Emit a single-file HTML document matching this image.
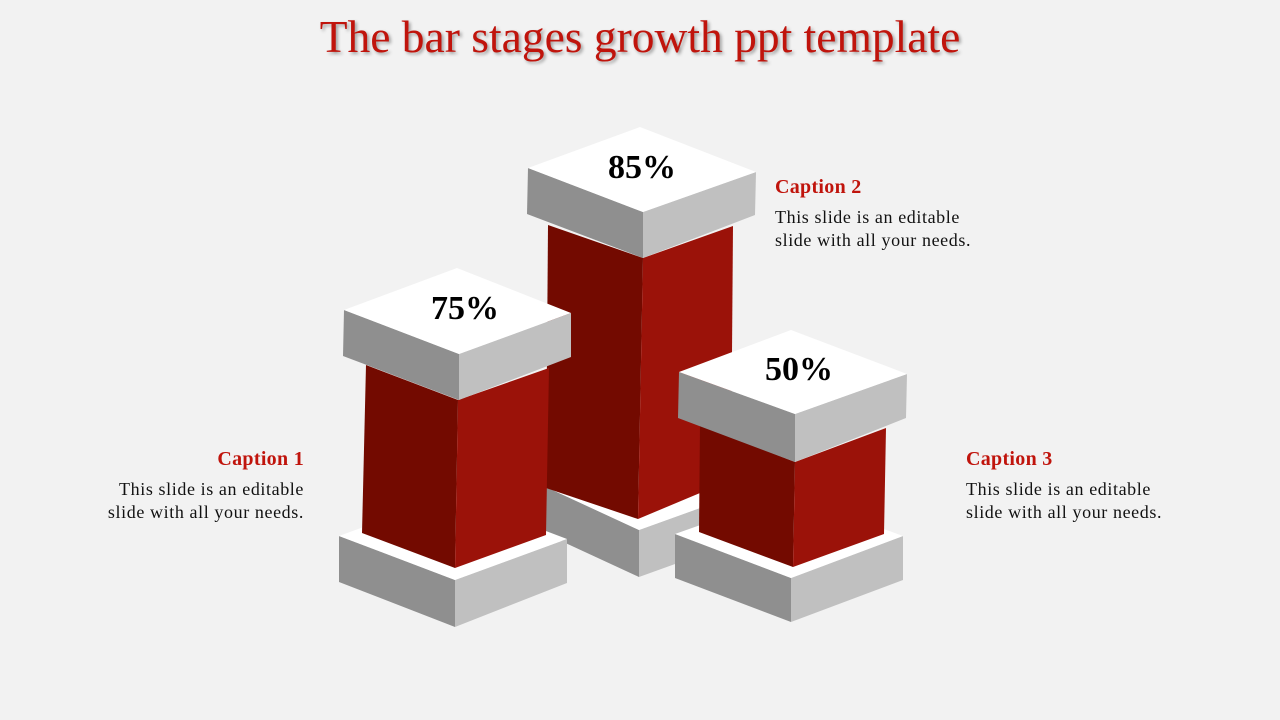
<!DOCTYPE html>
<html><head><meta charset="utf-8"><style>
body{margin:0;width:1280px;height:720px;background:#f2f2f2;overflow:hidden;font-family:"Liberation Serif",serif;}
.t{position:absolute;left:0;width:1280px;top:10px;text-align:center;font-size:45.5px;color:#c0140c;text-shadow:2px 2px 3px rgba(0,0,0,0.35);}
.c{position:absolute;font-size:18px;letter-spacing:0.6px;line-height:23px;color:#111;}
.c b{display:block;color:#c0140c;font-size:20px;letter-spacing:0.3px;margin-bottom:7px;}
</style></head><body>
<div class="t">The bar stages growth ppt template</div>
<svg width="1280" height="720" style="position:absolute;left:0;top:0">
<g font-family="Liberation Serif,serif" font-weight="bold" font-size="34" text-anchor="middle">
<polygon points="546,487 639,530 639,577 546,534" fill="#8f8f8f"/>
<polygon points="639,530 750,490 750,537 639,577" fill="#c0c0c0"/>
<polygon points="546,487 639,530 750,490 655,450" fill="#fff"/>
<polygon points="548,225 643,258 638,519 546,488" fill="#730a00"/>
<polygon points="643,258 733,226 731,480 638,519" fill="#9b1209"/>
<polygon points="528,168 643,212 643,258 527,214" fill="#8f8f8f"/>
<polygon points="643,212 756,172 755,215 643,258" fill="#c0c0c0"/>
<polygon points="528,168 640,127 756,172 643,212" fill="#fff"/>
<text x="642" y="178">85%</text>
<polygon points="339,536 455,580 455,627 339,582" fill="#8f8f8f"/>
<polygon points="455,580 567,539 567,583 455,627" fill="#c0c0c0"/>
<polygon points="339,536 455,580 567,539 451,495" fill="#fff"/>
<polygon points="366,365 458,400 455,568 362,533" fill="#730a00"/>
<polygon points="458,400 549,368 546,535 455,568" fill="#9b1209"/>
<polygon points="344,310 459,354 459,400 343,356" fill="#8f8f8f"/>
<polygon points="459,354 571,313 571,357 459,400" fill="#c0c0c0"/>
<polygon points="344,310 457,268 571,313 459,354" fill="#fff"/>
<text x="465" y="319">75%</text>
<polygon points="675,534 791,578 791,622 675,578" fill="#8f8f8f"/>
<polygon points="791,578 903,536 903,580 791,622" fill="#c0c0c0"/>
<polygon points="675,534 791,578 903,536 788,494" fill="#fff"/>
<polygon points="700,425 795,462 793,567 699,532" fill="#730a00"/>
<polygon points="795,462 886,428 884,534 793,567" fill="#9b1209"/>
<polygon points="679,372 795,414 795,462 678,418" fill="#8f8f8f"/>
<polygon points="795,414 907,374 906,418 795,462" fill="#c0c0c0"/>
<polygon points="679,372 791,330 907,374 795,414" fill="#fff"/>
<text x="799" y="380">50%</text>
</g></svg>
<div class="c" style="right:976px;top:448px;text-align:right"><b>Caption 1</b>This slide is an editable<br>slide with all your needs.</div>
<div class="c" style="left:775px;top:176px"><b>Caption 2</b>This slide is an editable<br>slide with all your needs.</div>
<div class="c" style="left:966px;top:448px"><b>Caption 3</b>This slide is an editable<br>slide with all your needs.</div>
</body></html>
